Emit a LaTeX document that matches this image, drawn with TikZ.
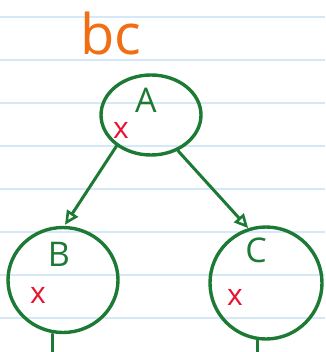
\documentclass[tikz,border=0pt]{standalone}
\usepackage{fontspec}
\setmainfont{Open Sans}
\usetikzlibrary{shapes.geometric,arrows.meta}
\definecolor{ink}{RGB}{28,122,52}
\definecolor{orng}{RGB}{240,110,20}
\definecolor{redx}{RGB}{230,20,50}
\definecolor{rule}{RGB}{212,232,247}
\begin{document}
\begin{tikzpicture}[x=1pt,y=-1pt,
  treenode/.style={draw=ink,line width=3.4pt,ellipse,inner sep=0pt},
  lbl/.style={text=ink,font=\fontsize{34}{34}\selectfont,inner sep=0pt},
  xmark/.style={text=redx,font=\fontsize{30}{30}\selectfont,inner sep=0pt},
  link/.style={draw=ink,line width=3pt,line cap=round,-{Triangle[open,length=14pt,width=13pt,line width=2.6pt]}},
  stub/.style={draw=ink,line width=3pt,line cap=round}]
\useasboundingbox (0,0) rectangle (325,352);
\fill[white] (0,0) rectangle (325,352);
\foreach \yy in {17,60,103,146,189,232,275,318}
  \draw[rule,line width=1.2pt] (0,\yy) -- (325,\yy);
\node[text=orng,font=\fontsize{56}{56}\selectfont,inner sep=0pt] (title) at (111,34) {bc};
\node[treenode,minimum width=100pt,minimum height=80pt] (A) at (151,115) {};
\node[treenode,minimum width=110pt,minimum height=105pt] (B) at (63,280) {};
\node[treenode,minimum width=112pt,minimum height=112pt] (C) at (266,283) {};
\node[lbl] (la) at (146,100) {A};
\node[lbl] (lb) at (59,254) {B};
\node[lbl] (lc) at (256,250) {C};
\node[xmark] (xa) at (121,130) {x};
\node[xmark] (xb) at (38,295) {x};
\node[xmark] (xc) at (235,297) {x};
\coordinate (bend) at (52,352);
\coordinate (cend) at (257,352);
\draw[link] (A.222) -- ([xshift=2pt,yshift=1pt]B.north);
\draw[link] (A.307) -- (C.108);
\draw[stub] (bend |- B.south) -- (bend);
\draw[stub] (cend |- C.south) -- (cend);
\end{tikzpicture}
\end{document}
